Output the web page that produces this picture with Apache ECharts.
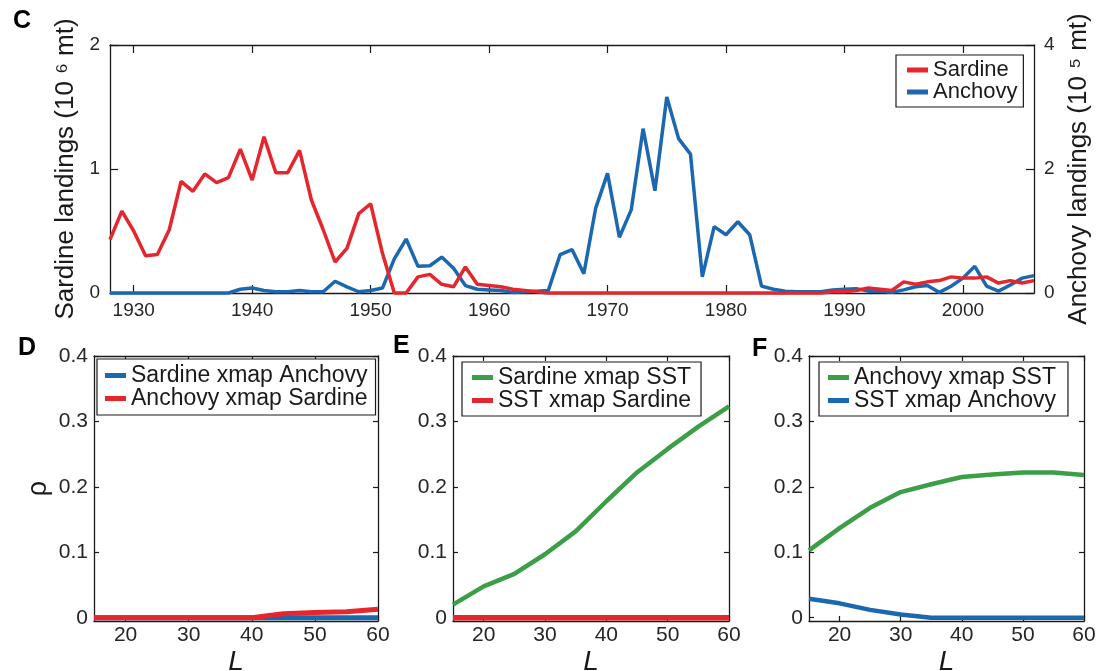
<!DOCTYPE html>
<html>
<head>
<meta charset="utf-8">
<script src="https://cdn.jsdelivr.net/npm/echarts@6/dist/echarts.min.js"></script>
<style>
  html, body { margin: 0; padding: 0; background: #fff; }
  #chart { width: 1117px; height: 671px; }
</style>
</head>
<body>
<div id="chart"></div>
<script>
// Landings time series (panel C)
const years = [1928,1929,1930,1931,1932,1933,1934,1935,1936,1937,1938,1939,1940,1941,1942,1943,1944,1945,1946,1947,
  1948,1949,1950,1951,1952,1953,1954,1955,1956,1957,1958,1959,1960,1961,1962,1963,1964,1965,1966,1967,
  1968,1969,1970,1971,1972,1973,1974,1975,1976,1977,1978,1979,1980,1981,1982,1983,1984,1985,1986,1987,
  1988,1989,1990,1991,1992,1993,1994,1995,1996,1997,1998,1999,2000,2001,2002,2003,2004,2005,2006];
// Sardine landings, 10^6 mt
const sardine = [0.43,0.66,0.50,0.30,0.31,0.51,0.90,0.82,0.96,0.89,0.93,1.16,0.91,1.26,0.97,0.97,1.15,0.75,0.51,0.25,
  0.36,0.64,0.72,0.32,0.00,0.00,0.13,0.15,0.07,0.05,0.21,0.07,0.06,0.05,0.03,0.02,0.01,0.00,0.00,0.00,
  0.00,0.00,0.00,0.00,0.00,0.00,0.00,0.00,0.00,0.00,0.00,0.00,0.00,0.00,0.00,0.00,0.00,0.00,0.00,0.00,
  0.00,0.01,0.01,0.02,0.04,0.03,0.02,0.09,0.07,0.09,0.10,0.13,0.12,0.12,0.13,0.08,0.10,0.08,0.10];
// Anchovy landings, 10^5 mt
const anchovy = [0.00,0.00,0.00,0.00,0.00,0.00,0.00,0.00,0.00,0.00,0.00,0.06,0.08,0.04,0.02,0.02,0.04,0.02,0.02,0.19,
  0.10,0.02,0.04,0.08,0.55,0.87,0.43,0.44,0.58,0.40,0.12,0.06,0.05,0.04,0.01,0.02,0.03,0.04,0.62,0.70,
  0.31,1.37,1.93,0.90,1.34,2.65,1.65,3.16,2.49,2.24,0.26,1.07,0.94,1.15,0.94,0.11,0.06,0.03,0.02,0.02,
  0.02,0.05,0.06,0.07,0.03,0.03,0.01,0.05,0.10,0.12,0.01,0.11,0.24,0.43,0.11,0.03,0.13,0.24,0.28];
const yearTicks = [1930,1940,1950,1960,1970,1980,1990,2000];
const sardineTicks = [0,1,2];
const anchovyTicks = [0,2,4];

// Cross-map skill vs library length L (panels D, E, F)
const libLength = [15,20,25,30,35,40,45,50,55,60];
const lTicks = [20,30,40,50,60];
const rhoTicks = [0,0.1,0.2,0.3,0.4];
const sardineXmapAnchovy = [0,0,0,0,0,0,0,0,0,0];
const anchovyXmapSardine = [0,0,0,0,0,0,0.006,0.008,0.009,0.013];
const sardineXmapSST = [0.020,0.048,0.067,0.097,0.132,0.178,0.222,0.258,0.292,0.323];
const sstXmapSardine = [0,0,0,0,0,0,0,0,0,0];
const anchovyXmapSST = [0.103,0.137,0.168,0.192,0.204,0.215,0.219,0.222,0.222,0.218];
const sstXmapAnchovy = [0.029,0.022,0.012,0.005,0,0,0,0,0,0];

const RED = '#e4262d', BLUE = '#1b67b0', GREEN = '#3d9e48';
const FONT = 'Liberation Sans, Arial, sans-serif';
const INK = '#1a1a1a';

const pairs = (xs, ys) => xs.map((x, i) => [x, ys[i]]);
const plainNum = v => String(v);

function boxAxisX(gridIndex, min, max, ticks, opts) {
  const bottom = {
    type: 'value', gridIndex, min, max, position: 'bottom',
    axisLine: { show: true, onZero: false, lineStyle: { color: INK, width: 1.3 } },
    axisTick: { show: true, inside: true, length: opts.tickLen, customValues: ticks, lineStyle: { color: INK, width: 1.2 } },
    axisLabel: { show: true, customValues: ticks, margin: opts.labelMargin, color: '#262626', fontSize: opts.labelSize,
      fontFamily: FONT, formatter: plainNum },
    splitLine: { show: false },
    name: opts.name || '', nameLocation: 'middle', nameGap: opts.nameGap || 0,
    nameTextStyle: opts.nameStyle || {}
  };
  const top = {
    type: 'value', gridIndex, min, max, position: 'top',
    axisLine: { show: true, onZero: false, lineStyle: { color: INK, width: 1.3 } },
    axisTick: { show: true, inside: true, length: opts.tickLen, customValues: ticks, lineStyle: { color: INK, width: 1.2 } },
    axisLabel: { show: false }, splitLine: { show: false }
  };
  return [bottom, top];
}

function panelY(gridIndex, opts) {
  const left = {
    type: 'value', gridIndex, min: opts.min, max: opts.max, position: 'left',
    axisLine: { show: true, onZero: false, lineStyle: { color: INK, width: 1.3 } },
    axisTick: { show: true, inside: true, length: opts.tickLen, customValues: opts.ticks, lineStyle: { color: INK, width: 1.2 } },
    axisLabel: { show: true, customValues: opts.ticks, margin: opts.labelMargin, color: '#262626', fontSize: opts.labelSize, fontFamily: FONT,
      formatter: opts.fmt || plainNum },
    splitLine: { show: false },
    name: opts.name || '', nameLocation: 'middle', nameRotate: 90, nameGap: opts.nameGap || 0,
    nameTextStyle: opts.nameStyle || {}
  };
  const right = {
    type: 'value', gridIndex, min: opts.rmin !== undefined ? opts.rmin : opts.min,
    max: opts.rmax !== undefined ? opts.rmax : opts.max, position: 'right',
    axisLine: { show: true, onZero: false, lineStyle: { color: INK, width: 1.3 } },
    axisTick: { show: true, inside: true, length: opts.tickLen, customValues: opts.rticks || opts.ticks, lineStyle: { color: INK, width: 1.2 } },
    axisLabel: { show: !!opts.rlabels, customValues: opts.rticks || opts.ticks, margin: opts.labelMargin, color: '#262626',
      fontSize: opts.labelSize, fontFamily: FONT, formatter: plainNum },
    splitLine: { show: false },
    name: opts.rname || '', nameLocation: 'middle', nameRotate: 90, nameGap: opts.rnameGap || 0,
    nameTextStyle: opts.nameStyle || {}
  };
  return [left, right];
}

const axisNameStyle = { color: INK, fontSize: 26, fontFamily: FONT };
const lNameStyle = { color: INK, fontSize: 28, fontStyle: 'italic', fontFamily: FONT };
const rhoFmt = v => (v === 0 ? '0' : v.toFixed(1));

// fixed plot boxes; axis names may sit close to the page edge
const grids = [
  { left: 110, top: 45, width: 924, height: 248, outerBoundsMode: 'none' },
  { left: 94, top: 356, width: 284, height: 265, outerBoundsMode: 'none' },
  { left: 453, top: 356, width: 276, height: 265, outerBoundsMode: 'none' },
  { left: 809, top: 356, width: 275, height: 265, outerBoundsMode: 'none' }
];

const lAxisOpts = { tickLen: 5, labelMargin: 4, labelSize: 21, name: 'L', nameGap: 27, nameStyle: lNameStyle };
const xAxes = [
  ...boxAxisX(0, 1928, 2006, yearTicks, { tickLen: 8, labelMargin: 8, labelSize: 19 }),
  ...boxAxisX(1, 15, 60, lTicks, lAxisOpts),
  ...boxAxisX(2, 15, 60, lTicks, lAxisOpts),
  ...boxAxisX(3, 15, 60, lTicks, lAxisOpts)
];

const rhoAxis = { min: -0.005, max: 0.4, ticks: rhoTicks, tickLen: 5, labelMargin: 6, labelSize: 21, fmt: rhoFmt };
const yAxes = [
  ...panelY(0, { min: 0, max: 2, ticks: sardineTicks, tickLen: 8, labelMargin: 10, labelSize: 19,
    name: 'Sardine landings (10 \u2076 mt)', nameGap: 30, nameStyle: axisNameStyle,
    rmin: 0, rmax: 4, rticks: anchovyTicks, rlabels: true,
    rname: 'Anchovy landings (10 \u2075 mt)', rnameGap: 22 }),
  ...panelY(1, Object.assign({}, rhoAxis, { name: '\u03c1', nameGap: 42, nameStyle: { color: INK, fontSize: 27, fontFamily: FONT } })),
  ...panelY(2, rhoAxis),
  ...panelY(3, rhoAxis)
];

function line(name, x, y, xi, yi, color, width) {
  return {
    name, type: 'line', xAxisIndex: xi, yAxisIndex: yi, data: pairs(x, y),
    showSymbol: false, symbol: 'none', clip: false, animation: false,
    lineStyle: { color, width }, itemStyle: { color }
  };
}

const series = [
  line('Anchovy', years, anchovy, 0, 1, BLUE, 3.5),
  line('Sardine', years, sardine, 0, 0, RED, 3.5),
  line('Sardine xmap Anchovy', libLength, sardineXmapAnchovy, 2, 2, BLUE, 5),
  line('Anchovy xmap Sardine', libLength, anchovyXmapSardine, 2, 2, RED, 5),
  line('Sardine xmap SST', libLength, sardineXmapSST, 4, 4, GREEN, 4.5),
  line('SST xmap Sardine', libLength, sstXmapSardine, 4, 4, RED, 5.5),
  line('Anchovy xmap SST', libLength, anchovyXmapSST, 6, 6, GREEN, 4.5),
  line('SST xmap Anchovy', libLength, sstXmapAnchovy, 6, 6, BLUE, 4.5)
];

function legendBox(names, left, top, padding, fontSize, textGap) {
  return {
    data: names, left, top, orient: 'vertical', selectedMode: false,
    backgroundColor: '#fff', borderColor: INK, borderWidth: 1.2, borderRadius: 0,
    padding, itemGap: 0, itemWidth: 21, itemHeight: 5, itemTextGap: textGap, icon: 'rect',
    textStyle: { color: INK, fontSize, fontFamily: FONT, lineHeight: 22 }
  };
}

const legends = [
  legendBox(['Sardine', 'Anchovy'], 896, 55, [4, 6, 4, 11], 22, 10),
  legendBox(['Sardine xmap Anchovy', 'Anchovy xmap Sardine'], 97, 359, [5, 8, 5, 8], 23, 9),
  legendBox(['Sardine xmap SST', 'SST xmap Sardine'], 462, 362, [4, 10, 4, 10], 23, 10),
  legendBox(['Anchovy xmap SST', 'SST xmap Anchovy'], 819, 362, [4, 12, 4, 9], 23, 10)
];

const panelLetter = (text, x, y) => ({
  type: 'text', left: x, top: y,
  style: { text, fill: '#000', font: 'bold 25px ' + FONT }
});

const chart = echarts.init(document.getElementById('chart'), null, { renderer: 'canvas' });
chart.setOption({
  backgroundColor: '#fff',
  animation: false,
  grid: grids,
  xAxis: xAxes,
  yAxis: yAxes,
  legend: legends,
  series,
  graphic: [
    panelLetter('C', 13, 9),
    panelLetter('D', 18, 336),
    panelLetter('E', 393, 334),
    panelLetter('F', 752, 337)
  ]
});
</script>
</body>
</html>
